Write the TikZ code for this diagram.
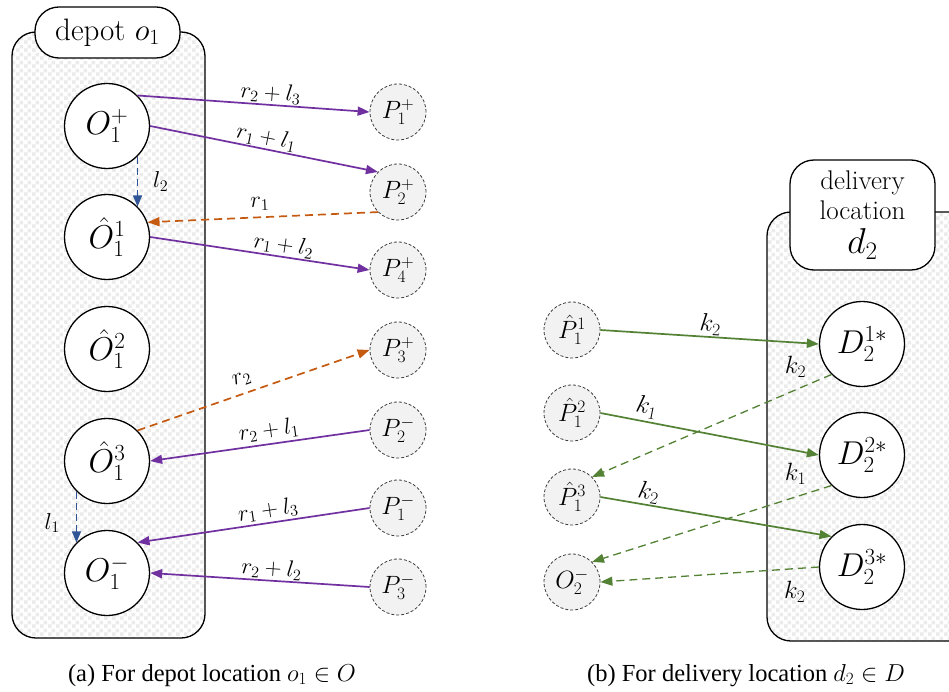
\RequirePackage{fix-cm}
\documentclass[tikz,border=0pt]{standalone}
\usepackage{fontspec}
\newfontfamily\capfont{Liberation Serif}
\usetikzlibrary{arrows.meta,patterns.meta}

\definecolor{arcpurple}{RGB}{112,48,160}
\definecolor{arcorange}{RGB}{197,90,17}
\definecolor{arcblue}{RGB}{47,85,151}
\definecolor{arcgreen}{RGB}{84,130,53}
\definecolor{visitfill}{RGB}{242,242,242}

% fine checker texture used inside the location containers
\tikzdeclarepattern{
  name=checks,
  type=uncolored,
  tile size={(8pt,8pt)},
  bounding box={(0pt,0pt) and (8pt,8pt)},
  code={
    \fill (0pt,0pt) rectangle (4pt,4pt);
    \fill (4pt,4pt) rectangle (8pt,8pt);
  }
}

\tikzset{
  container/.style={draw, line width=1.3pt, rounded corners=24pt},
  tagbox/.style={draw, line width=1.3pt, fill=white, rounded corners=24pt, inner sep=0pt},
  stage/.style={circle, draw, line width=1.3pt, fill=white, minimum size=85pt,
    inner sep=0pt, font=\fontsize{33}{36}\selectfont},
  visit/.style={circle, draw=black!75, dash pattern=on 3pt off 2pt, line width=0.8pt,
    fill=visitfill, minimum size=56pt, inner sep=0pt, font=\fontsize{25}{27}\selectfont},
  arc/.style={line width=1.7pt, -{Triangle[length=12pt,width=9pt]}},
  dasharc/.style={arc, dash pattern=on 8pt off 5pt},
  lab/.style={text=black, font=\fontsize{23}{25}\selectfont, inner sep=1pt},
  klab/.style={lab, font=\fontsize{25}{27}\selectfont},
  captext/.style={font=\capfont\fontsize{24.5}{28}\selectfont, anchor=base, inner sep=0pt},
}

\begin{document}
\begin{tikzpicture}[x=1pt, y=-1pt]
  \fill[white] (0,0) rectangle (949,692);
  \useasboundingbox (0,0) rectangle (949,692);

  % ---------- (a) depot location ----------
  \path[fill=white, rounded corners=24pt] (12,32) rectangle (205,638);
  \path[pattern=checks, pattern color=gray!16, rounded corners=24pt] (12,32) rectangle (205,638);
  \draw[container] (12,32) rectangle (205,638);
  \node[tagbox, minimum width=145pt, minimum height=51pt,
        font=\fontsize{31}{34}\selectfont] (dep) at (107.5,32.5) {depot $o_1$};

  \node[stage] (o1p) at (107,126) {$O_1^+$};
  \node[stage] (oh1) at (107,237) {$\hat{O}_1^1$};
  \node[stage] (oh2) at (107,349) {$\hat{O}_1^2$};
  \node[stage] (oh3) at (107,461) {$\hat{O}_1^3$};
  \node[stage] (o1m) at (107,573) {$O_1^-$};

  \node[visit] (p1p) at (398,112) {$P_1^+$};
  \node[visit] (p2p) at (398,192) {$P_2^+$};
  \node[visit] (p4p) at (398,270) {$P_4^+$};
  \node[visit] (p3p) at (398,350) {$P_3^+$};
  \node[visit] (p2m) at (398,430) {$P_2^-$};
  \node[visit] (p1m) at (398,508) {$P_1^-$};
  \node[visit] (p3m) at (398,587) {$P_3^-$};

  \draw[arc, arcpurple] (o1p.45) -- node[lab, sloped, above=0pt, pos=0.57] {$r_2+l_3$} (p1p.west);
  \draw[arc, arcpurple] (o1p.east) -- node[lab, sloped, above=0pt, pos=0.5] {$r_1+l_1$} (p2p.135);
  \draw[dasharc, arcorange] (p2p.225) -- node[lab, sloped, above=5pt, pos=0.51] {$r_1$} (oh1.20);
  \draw[arc, arcpurple] (oh1.east) -- node[lab, sloped, above=0pt, pos=0.6] {$r_1+l_2$} (p4p.west);
  \draw[dasharc, arcorange] (oh3.45) -- node[lab, sloped, above=5pt, pos=0.47] {$r_2$} (p3p.west);
  \draw[arc, arcpurple] (p2m.west) -- node[lab, sloped, above=2pt, pos=0.45] {$r_2+l_1$} (oh3.east);
  \draw[arc, arcpurple] (p1m.west) -- node[lab, sloped, above=1pt, pos=0.43] {$r_1+l_3$} (o1m.45);
  \draw[arc, arcpurple] (p3m.west) -- node[lab, sloped, above=0pt, pos=0.45] {$r_2+l_2$} (o1m.east);

  \draw[arcblue, line width=1.3pt, dash pattern=on 7pt off 4pt, -{Triangle[length=11pt,width=9pt]}]
    (o1p.-45) -- node[lab, right=14pt, pos=0.5] {$l_2$} (oh1.45);
  \draw[arcblue, line width=1.3pt, dash pattern=on 7pt off 4pt, -{Triangle[length=11pt,width=9pt]}]
    (oh3.225) -- node[lab, left=15pt, pos=0.62] {$l_1$} (o1m.135);

  % ---------- (b) delivery location ----------
  \begin{scope}
    \clip (0,0) rectangle (949,692);
    \path[fill=white, rounded corners=24pt] (767,212) rectangle (990,641);
    \path[pattern=checks, pattern color=gray!16, rounded corners=24pt] (767,212) rectangle (990,641);
    \draw[container] (767,212) rectangle (990,641);
  \end{scope}
  \node[tagbox, minimum width=145pt, minimum height=110pt, align=center,
        font=\fontsize{27}{30}\selectfont] (del) at (862.5,215)
        {delivery\\location\\[4pt]{\fontsize{36}{36}\selectfont$d_2$}};

  \node[stage] (d1) at (862,344) {$D_2^{1*}$};
  \node[stage] (d2) at (862,455) {$D_2^{2*}$};
  \node[stage] (d3) at (862,567) {$D_2^{3*}$};

  \node[visit] (ph1) at (572,330) {$\hat{P}_1^1$};
  \node[visit] (ph2) at (572,413) {$\hat{P}_1^2$};
  \node[visit] (ph3) at (572,497) {$\hat{P}_1^3$};
  \node[visit] (o2m) at (572,582) {$O_2^-$};

  \draw[arc, arcgreen] (ph1.east) -- node[klab, sloped, above=0pt, pos=0.5] {$k_2$} (d1.west);
  \draw[arc, arcgreen] (ph2.east) -- node[klab, sloped, above=2pt, pos=0.2] {$k_1$} (d2.west);
  \draw[arc, arcgreen] (ph3.east) -- node[klab, sloped, above=0pt, pos=0.2] {$k_2$} (d3.135);

  \draw[dasharc, arcgreen, line width=1.3pt] (d1.225) -- node[klab, above=11pt, pos=0.15] {$k_2$} (ph3.45);
  \draw[dasharc, arcgreen, line width=1.3pt] (d2.225) -- node[klab, above=11pt, pos=0.15] {$k_1$} (o2m.45);
  \draw[dasharc, arcgreen, line width=1.3pt] (d3.west) -- node[klab, below=11pt, pos=0.11] {$k_2$} (o2m.east);

  % ---------- captions ----------
  \node[captext] (capa) at (212,681) {(a) For depot location $o_1\in O$};
  \node[captext] (capb) at (746,681) {(b) For delivery location $d_2\in D$};
\end{tikzpicture}
\end{document}
